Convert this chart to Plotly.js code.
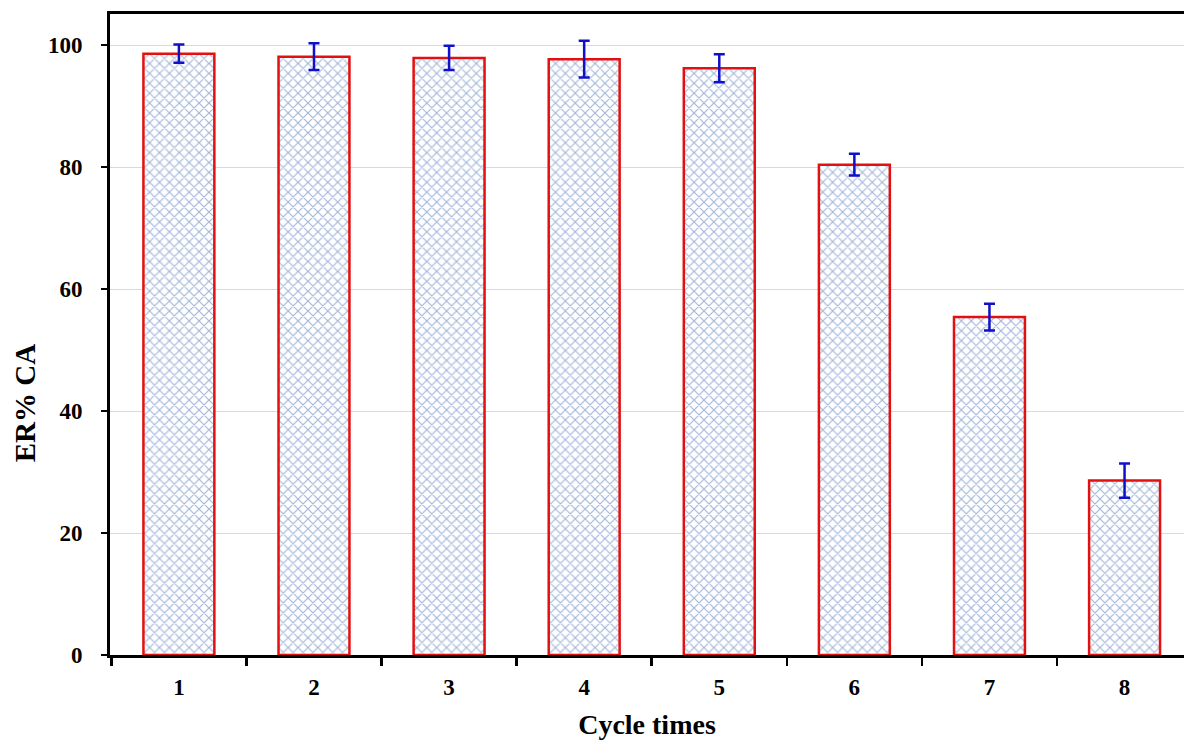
<!DOCTYPE html>
<html>
<head>
<meta charset="utf-8">
<script src="https://cdn.plot.ly/plotly-3.0.1.min.js"></script>
<style>html,body{margin:0;padding:0;background:#fff;}#chart{width:1184px;height:745px;}</style>
</head>
<body>
<div id="chart"></div>
<script>
var cycles = ["1", "2", "3", "4", "5", "6", "7", "8"];
var erValues = [98.6, 98.1, 97.9, 97.7, 96.2, 80.4, 55.4, 28.6];
var erErrors = [1.5, 2.2, 2.0, 3.0, 2.3, 1.8, 2.2, 2.8];
var yTicks = [0, 20, 40, 60, 80, 100];
var yTitle = 'ER% CA';
var xTitle = 'Cycle times';

var fontFam = '"Liberation Serif", "Times New Roman", serif';

var trace = {
  type: 'bar',
  x: cycles,
  y: erValues,
  width: 0.525,
  marker: {
    color: '#ffffff',
    line: {color: '#e41010', width: 2.5},
    pattern: {shape: 'x', size: 7, solidity: 0.3, fgcolor: '#a2b6da', bgcolor: '#ffffff', fillmode: 'replace'}
  },
  error_y: {type: 'data', array: erErrors, visible: true, color: '#1010c8', thickness: 2.5, width: 5.5}
};

var layout = {
  width: 1184, height: 745,
  margin: {l: 110, r: 0, t: 14, b: 90},
  paper_bgcolor: '#ffffff', plot_bgcolor: '#ffffff',
  showlegend: false,
  font: {family: fontFam, color: '#000'},
  xaxis: {
    type: 'category',
    range: [-0.51, 7.44],
    tickson: 'boundaries',
    ticks: 'outside', ticklen: 8, tickwidth: 2.5, tickcolor: '#000',
    showline: true, linecolor: '#000', linewidth: 3, mirror: true,
    showgrid: false, zeroline: false,
    tickfont: {family: fontFam, size: 23, color: '#000', weight: 'bold'},
    ticklabelstandoff: 9,
    title: {text: '<b>' + xTitle + '</b>', font: {family: fontFam, size: 28, color: '#000'}, standoff: 16}
  },
  yaxis: {
    range: [0, 105.1],
    tickvals: yTicks,
    ticks: 'outside', ticklen: 6, tickwidth: 2.5, tickcolor: '#000',
    showline: true, linecolor: '#000', linewidth: 3,
    showgrid: true, gridcolor: '#d9d9d9', gridwidth: 1,
    zeroline: false,
    tickfont: {family: fontFam, size: 23, color: '#000', weight: 'bold'},
    ticklabelstandoff: 14
  },
  annotations: [{
    text: '<b>' + yTitle + '</b>',
    xref: 'paper', yref: 'paper',
    x: -0.079, y: 0.393,
    xanchor: 'center', yanchor: 'middle',
    textangle: -90, showarrow: false,
    font: {family: fontFam, size: 29, color: '#000'}
  }]
};

Plotly.newPlot('chart', [trace], layout, {displayModeBar: false, staticPlot: true});
</script>
</body>
</html>
